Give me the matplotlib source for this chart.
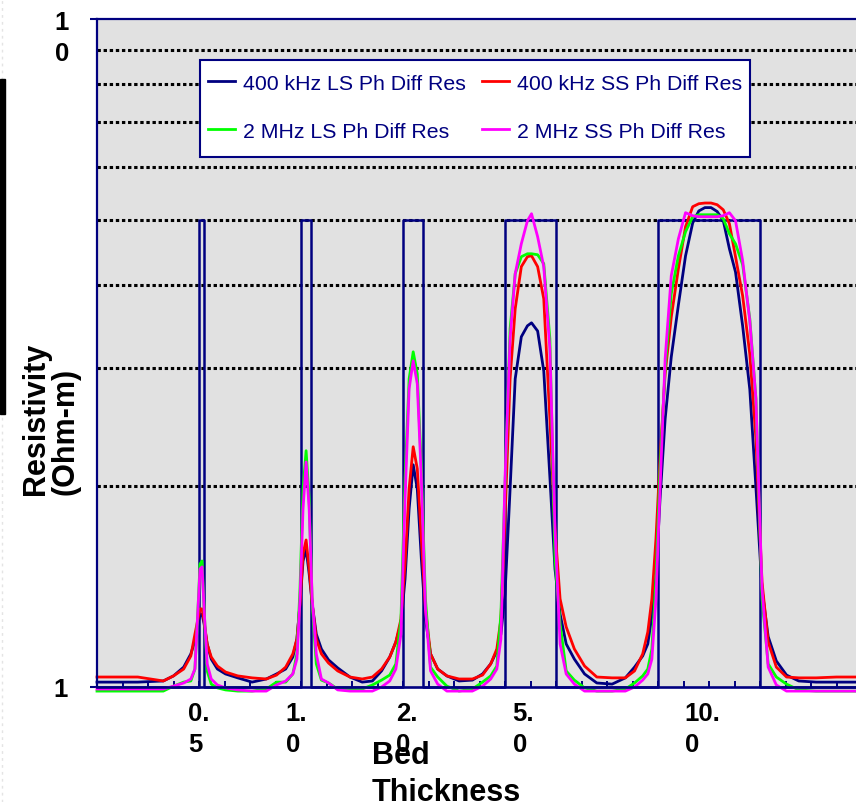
import matplotlib
matplotlib.use('Agg')
import matplotlib.pyplot as plt
from matplotlib.ticker import MultipleLocator, LogLocator, NullFormatter
from matplotlib.patches import Rectangle
from matplotlib.lines import Line2D
from matplotlib.transforms import offset_copy

plt.rcParams['font.family'] = ['Liberation Sans', 'DejaVu Sans']

# Пласты (кровля и мощность, фут), сопротивление пласта и вмещающих пород
bed_top = [10, 20, 30, 40, 55]
bed_thickness = [0.5, 1.0, 2.0, 5.0, 10.0]
bed_res = 5.0
shoulder_res = 1.0

# Подписи оси X
tick_labels = ['0.\n5', '1.\n0', '2.\n0', '5.\n0', '10.\n0']
tick_pos = [9.95, 19.56, 30.34, 41.81, 59.36]

# Глубина (фут)
depth = [0, 4, 6.5, 7.5, 8.5, 9.2, 9.6, 9.9, 10.1, 10.3,
         10.5, 10.8, 11.2, 11.8, 12.6, 13.8, 15.2, 16.6, 17.6, 18.5,
         19.2, 19.6, 19.9, 20.2, 20.5, 20.8, 21.1, 21.5, 22.0, 22.7,
         23.6, 24.8, 26.0, 27.0, 27.9, 28.7, 29.3, 29.8, 30.2, 30.6,
         31.0, 31.4, 31.8, 32.2, 32.7, 33.4, 34.3, 35.5, 36.8, 37.8,
         38.6, 39.2, 39.6, 40.0, 40.5, 41.0, 41.6, 42.2, 42.6, 43.2,
         43.8, 44.4, 44.9, 45.4, 46.0, 46.8, 47.8, 49.0, 50.5, 51.8,
         52.7, 53.5, 54.0, 54.4, 54.8, 55.2, 55.7, 56.3, 57.0, 57.7,
         58.4, 59.0, 59.6, 60.2, 60.8, 61.4, 62.0, 62.6, 63.3, 64.0,
         64.6, 65.2, 65.8, 66.6, 67.6, 68.8, 70.5, 72.5, 75.0]

# 400 kHz LS Ph Diff Res
ls_400k = [1.017, 1.017, 1.021, 1.039, 1.071, 1.121, 1.172, 1.243, 1.282, 1.286,
           1.243, 1.160, 1.101, 1.064, 1.046, 1.032, 1.017, 1.028, 1.046, 1.064,
           1.109, 1.180, 1.331, 1.544, 1.609, 1.477, 1.331, 1.200, 1.140, 1.098,
           1.068, 1.035, 1.017, 1.021, 1.057, 1.109, 1.168, 1.243, 1.451, 1.848,
           2.151, 1.980, 1.555, 1.264, 1.121, 1.064, 1.039, 1.021, 1.024, 1.046,
           1.083, 1.132, 1.200, 1.378, 1.980, 2.893, 3.344, 3.473, 3.509, 3.411,
           2.972, 2.062, 1.502, 1.286, 1.160, 1.101, 1.046, 1.014, 1.010, 1.032,
           1.071, 1.113, 1.160, 1.278, 1.461, 1.913, 2.518, 3.119, 3.732, 4.42,
           4.95, 5.16, 5.22, 5.22, 5.15, 4.99, 4.53, 4.18, 3.47, 2.79,
           1.99, 1.40, 1.19, 1.094, 1.042, 1.021, 1.017, 1.017, 1.017]

# 400 kHz SS Ph Diff Res
ss_400k = [1.035, 1.035, 1.021, 1.039, 1.064, 1.113, 1.200, 1.264, 1.309, 1.309,
           1.255, 1.160, 1.109, 1.075, 1.053, 1.039, 1.032, 1.028, 1.042, 1.071,
           1.121, 1.180, 1.331, 1.582, 1.660, 1.502, 1.331, 1.180, 1.121, 1.086,
           1.057, 1.035, 1.028, 1.035, 1.064, 1.109, 1.168, 1.264, 1.528, 1.980,
           2.289, 2.122, 1.666, 1.309, 1.121, 1.064, 1.039, 1.028, 1.028, 1.042,
           1.083, 1.140, 1.264, 1.785, 2.893, 3.683, 4.258, 4.407, 4.422, 4.258,
           3.812, 2.52, 1.724, 1.355, 1.230, 1.140, 1.075, 1.035, 1.032, 1.032,
           1.057, 1.121, 1.209, 1.355, 1.666, 2.196, 2.943, 3.58, 4.229, 4.887,
           5.236, 5.290, 5.303, 5.303, 5.272, 5.18, 4.938, 4.407, 3.85, 3.15,
           2.353, 1.436, 1.168, 1.071, 1.035, 1.032, 1.032, 1.035, 1.035]

# 2 MHz LS Ph Diff Res
ls_2m = [0.986, 0.986, 0.986, 1.003, 1.017, 1.021, 1.064, 1.309, 1.528, 1.544,
         1.309, 1.057, 1.010, 0.997, 0.990, 0.986, 0.986, 0.993, 1.017, 1.017,
         1.046, 1.121, 1.402, 1.980, 2.258, 1.913, 1.331, 1.083, 1.024, 1.014,
         0.993, 0.990, 0.993, 1.007, 1.024, 1.042, 1.083, 1.264, 2.050, 2.893,
         3.175, 2.943, 2.122, 1.355, 1.071, 1.035, 1.003, 0.986, 0.993, 1.017,
         1.039, 1.075, 1.286, 1.994, 3.437, 4.156, 4.407, 4.452, 4.452, 4.437,
         4.302, 3.321, 1.555, 1.243, 1.057, 1.024, 0.997, 0.986, 0.986, 0.993,
         1.014, 1.039, 1.064, 1.140, 1.451, 2.122, 2.995, 3.879, 4.422, 4.803,
         5.058, 5.093, 5.093, 5.093, 5.093, 5.024, 4.770, 4.608, 4.287, 3.558,
         2.700, 1.355, 1.083, 1.035, 1.010, 0.990, 0.986, 0.986, 0.986]

# 2 MHz SS Ph Diff Res
ss_2m = [0.993, 0.993, 0.993, 1.003, 1.014, 1.028, 1.064, 1.309, 1.502, 1.513,
         1.309, 1.083, 1.028, 1.007, 0.997, 0.990, 0.986, 0.986, 1.007, 1.021,
         1.046, 1.101, 1.355, 1.848, 2.172, 1.848, 1.355, 1.121, 1.028, 1.014,
         0.990, 0.986, 0.986, 0.986, 1.000, 1.021, 1.064, 1.200, 1.913, 2.795,
         3.078, 2.844, 2.050, 1.309, 1.057, 1.010, 0.986, 0.986, 0.986, 1.003,
         1.028, 1.064, 1.180, 2.050, 3.321, 4.156, 4.608, 4.989, 5.111, 4.721,
         4.258, 3.208, 1.724, 1.160, 1.046, 1.010, 0.986, 0.986, 0.986, 0.986,
         1.000, 1.024, 1.046, 1.101, 1.355, 1.980, 3.099, 4.127, 4.689, 5.129,
         5.076, 5.058, 5.058, 5.058, 5.058, 5.076, 5.129, 4.989, 4.347, 3.532,
         2.700, 1.402, 1.071, 1.007, 0.986, 0.986, 0.986, 0.986, 0.986]

navy = '#000080'

# Прямоугольная модель пластов
sq_x = [0]
sq_y = [shoulder_res]
for top, th in zip(bed_top, bed_thickness):
    sq_x += [top, top, top + th, top + th]
    sq_y += [shoulder_res, bed_res, bed_res, shoulder_res]
sq_x.append(depth[-1])
sq_y.append(shoulder_res)

fig = plt.figure(figsize=(8.56, 8.03), dpi=100)
ax = fig.add_axes([97 / 856, 115 / 803, 765 / 856, 668 / 803])
ax.set_facecolor('#e1e1e1')

ax.plot(sq_x, sq_y, color=navy, lw=1.8, clip_on=False)
l1, = ax.plot(depth, ls_400k, color=navy, lw=2, clip_on=False)
l2, = ax.plot(depth, ss_400k, color='#ff0000', lw=2, clip_on=False)
l3, = ax.plot(depth, ls_2m, color='#00ff00', lw=2, clip_on=False)
l4, = ax.plot(depth, ss_2m, color='#ff00ff', lw=2, clip_on=False)

ax.set_yscale('log')
ax.set_ylim(1, 10)
ax.set_xlim(0, 75)

# Ось Y (подпись "10" перенесена на две строки, как в оригинале)
ax.set_yticks([1, 10], ['1', ''], fontsize=18.5, fontweight='bold')
ax.yaxis.set_minor_locator(LogLocator(subs=range(2, 10)))
ax.yaxis.set_minor_formatter(NullFormatter())
ax.tick_params(axis='y', which='major', direction='out', length=5, width=1.5,
               color=navy, pad=16)
ax.tick_params(axis='y', which='minor', length=0)
ax.text(0, 10, '1\n0', transform=offset_copy(ax.get_yaxis_transform(), fig=fig,
                                             x=-28, y=-41, units='dots'),
        ha='right', va='baseline', multialignment='left', fontsize=18.5,
        fontweight='bold', linespacing=1.35)
ax.yaxis.grid(True, which='minor', color='black', linestyle=(0, (1.1, 0.9)), linewidth=2.2)
ax.set_axisbelow(True)

# Ось X
ax.set_xticks(tick_pos, tick_labels, fontsize=18.5, fontweight='bold',
              linespacing=1.35, multialignment='left')
ax.xaxis.set_minor_locator(MultipleLocator(2.5))
ax.tick_params(axis='x', which='major', length=0, pad=10)
ax.tick_params(axis='x', which='minor', direction='in', length=4.5, width=1.4, color=navy)

for side in ['left', 'top', 'bottom']:
    ax.spines[side].set_color(navy)
    ax.spines[side].set_linewidth(1.6)
ax.spines['bottom'].set_linewidth(1.9)
ax.spines['right'].set_visible(False)

# Подписи осей
fig.text(74 / 856, (803 - 495) / 803, 'Resistivity\n(Ohm-m)', rotation=90,
         rotation_mode='anchor', ha='left', va='baseline', multialignment='left',
         fontsize=22, fontweight='bold', linespacing=1.0)
fig.text(372 / 856, (803 - 801) / 803, 'Bed\nThickness', ha='left', va='baseline',
         multialignment='left', fontsize=22, fontweight='bold', linespacing=1.3)

# Легенда: рамка отдельно, записи поверх
box = Rectangle((200 / 856, 1 - 158 / 803), 550 / 856, 97 / 803,
                transform=fig.transFigure, facecolor='white', edgecolor=navy,
                linewidth=1.5, zorder=4.9, clip_on=False)
ax.add_artist(box)
leg = ax.legend([l1, l3, l2, l4],
                ['400 kHz LS Ph Diff Res', '2 MHz LS Ph Diff Res',
                 '400 kHz SS Ph Diff Res', '2 MHz SS Ph Diff Res'],
                ncol=2, loc='upper left',
                bbox_to_anchor=(200 / 856, 1 - 67 / 803, 550 / 856, 0),
                bbox_transform=fig.transFigure, mode='expand', borderaxespad=0,
                frameon=False, fontsize=15.3, labelcolor=navy, handlelength=1.3,
                handletextpad=0.37, labelspacing=1.35, borderpad=0.37)

# Чёрная полоса у левого края
fig.patches.append(Rectangle((0, 1 - 415 / 803), 4.5 / 856, 335 / 803,
                             transform=fig.transFigure, color='black'))
fig.lines.append(Line2D([2 / 856, 2 / 856], [0, 1], transform=fig.transFigure,
                        color='#e4e4e4', lw=1, linestyle=(0, (2, 3)), zorder=0))

fig.savefig('out.png', dpi=100)
